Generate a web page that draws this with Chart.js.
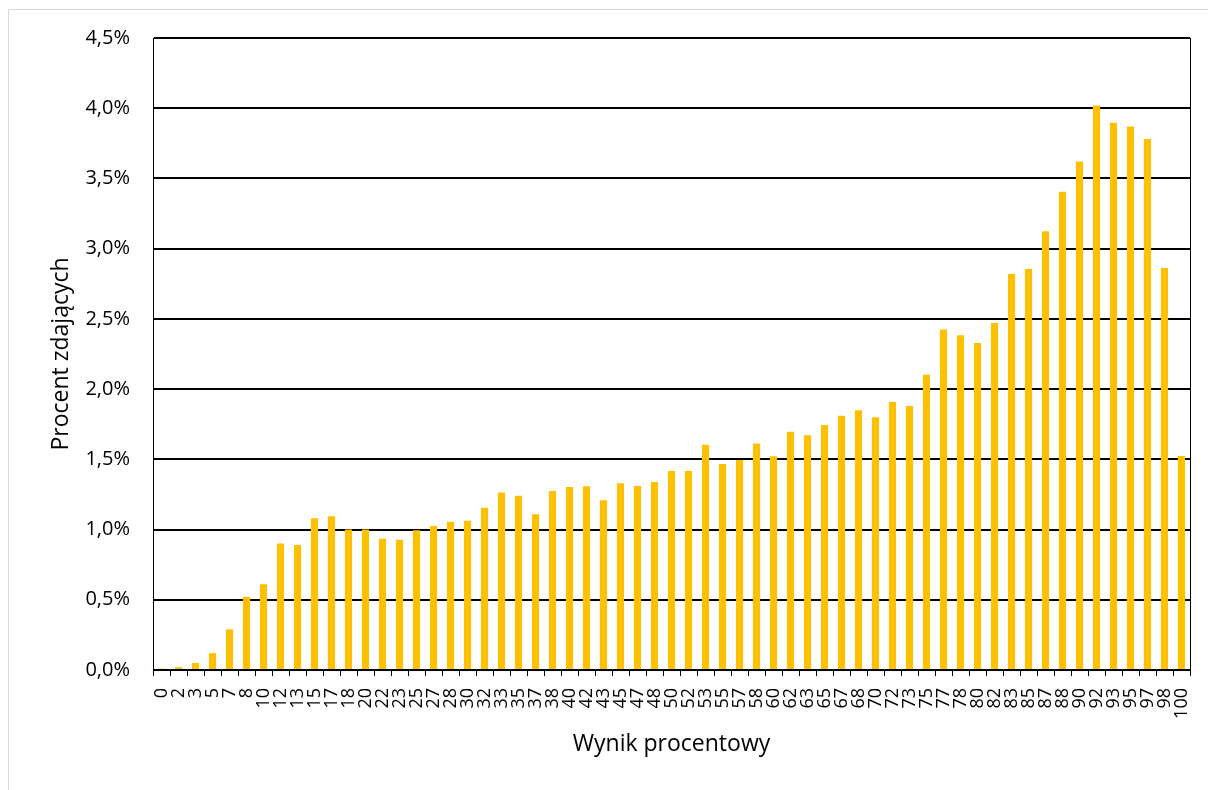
<!DOCTYPE html>
<html>
<head>
<meta charset="utf-8">
<script src="https://cdn.jsdelivr.net/npm/chart.js@4/dist/chart.umd.min.js"></script>
<style>
  body { margin: 0; background: #fff; overflow: hidden; }
  #frame { position: absolute; left: 8px; top: 9px; width: 1400px; height: 1000px;
           border-left: 1px solid #d9d9d9; border-top: 1px solid #d9d9d9; }
  #chart { position: absolute; left: 0; top: 0; }
</style>
</head>
<body>
<div id="frame"></div>
<canvas id="chart" width="1208" height="790"></canvas>
<script>
// wyniki procentowe (kategorie)
const wyniki = ['0','2','3','5','7','8','10','12','13','15','17','18','20','22','23','25','27','28','30','32',
  '33','35','37','38','40','42','43','45','47','48','50','52','53','55','57','58','60','62','63','65',
  '67','68','70','72','73','75','77','78','80','82','83','85','87','88','90','92','93','95','97','98','100']

// procent zdajacych
const procent = [0.01, 0.02, 0.05, 0.12, 0.29, 0.52, 0.61, 0.90, 0.89, 1.08, 1.095, 1.00, 1.00, 0.935, 0.927, 0.995, 1.026, 1.056, 1.063, 1.156,
  1.263, 1.24, 1.109, 1.275, 1.303, 1.308, 1.209, 1.33, 1.31, 1.339, 1.417, 1.417, 1.603, 1.467, 1.496, 1.612, 1.522, 1.697, 1.672, 1.745,
  1.811, 1.85, 1.80, 1.909, 1.88, 2.103, 2.424, 2.384, 2.329, 2.471, 2.82, 2.856, 3.124, 3.405, 3.62, 4.019, 3.896, 3.87, 3.78, 2.863, 1.524]

const yMax = 4.5
const yStep = 0.5

const fontName = "'Open Sans', 'Liberation Sans', sans-serif"

// ramka obszaru wykresu
const frame = {
  id: 'frame',
  afterDraw(chart) {
    const a = chart.chartArea
    const ctx = chart.ctx
    ctx.save()
    ctx.strokeStyle = '#000'
    ctx.lineWidth = 1
    ctx.strokeRect(Math.round(a.left) + 0.5, Math.round(a.top) + 0.5, Math.round(a.right - a.left), Math.round(a.bottom - a.top))
    ctx.restore()
  }
}

const ctx = document.getElementById('chart').getContext('2d')
const chart = new Chart(ctx, {
  type: 'bar',
  data: {
    labels: wyniki,
    datasets: [{
      data: procent,
      backgroundColor: '#FFC000',
      barPercentage: 0.42,
      categoryPercentage: 1
    }]
  },
  options: {
    responsive: false,
    animation: false,
    devicePixelRatio: 1,
    layout: { padding: { left: 38, right: 18, top: 38, bottom: 28 } },
    plugins: { legend: { display: false }, tooltip: { enabled: false } },
    scales: {
      x: {
        grid: { drawOnChartArea: false, drawTicks: true, tickLength: 6, color: '#000', lineWidth: 1 },
        border: { color: '#000', width: 1 },
        ticks: {
          autoSkip: false, maxRotation: 90, minRotation: 90, padding: 12,
          color: '#000', font: { family: fontName, size: 18 }
        },
        title: { display: true, text: 'Wynik procentowy', color: '#000', font: { family: fontName, size: 23 }, padding: { top: 4, bottom: 4 } },
        afterFit(scale) {
          scale.height = 790 - 670 - 28
          scale.paddingLeft = 0
          scale.paddingRight = 0
        }
      },
      y: {
        min: 0, max: yMax,
        grid: { color: '#000', lineWidth: 2, drawTicks: false },
        border: { color: '#000', width: 1 },
        ticks: {
          stepSize: yStep, padding: 23, color: '#000',
          font: { family: fontName, size: 20 },
          callback: v => v.toFixed(1).replace('.', ',') + '%'
        },
        title: { display: true, text: 'Procent zdających', color: '#000', font: { family: fontName, size: 23 }, padding: { top: 10, bottom: 0 } },
        afterFit(scale) { scale.width = 153 - 38 }
      }
    }
  },
  plugins: [frame]
})
</script>
</body>
</html>
